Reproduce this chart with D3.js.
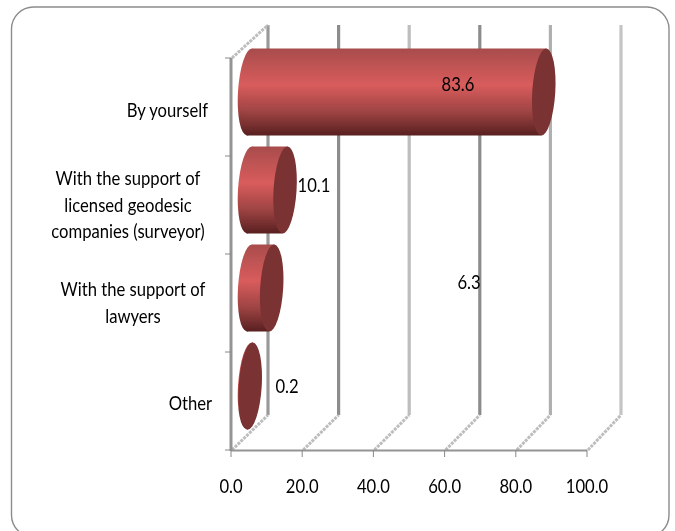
<!DOCTYPE html>
<html>
<head>
<meta charset="utf-8">
<script src="https://cdn.jsdelivr.net/npm/d3@7"></script>
<style>
  html, body { margin: 0; padding: 0; background: #fff; }
  svg { display: block; }
  text { font-family: Lato, "Open Sans", sans-serif; fill: #000; }
</style>
</head>
<body>
<script>
var categories = ["By yourself", "With the support of|licensed geodesic|companies (surveyor)", "With the support of|lawyers", "Other"];
var values = [83.6, 10.1, 6.3, 0.2];
var valueLabels = ["83.6", "10.1", "6.3", "0.2"];
var ticks = [0, 20, 40, 60, 80, 100];

var w = 675;
var h = 531;
var fontSize = 18.5;
var squeeze = 0.9;

var svg = d3.select("body").append("svg")
  .attr("width", w)
  .attr("height", h);

var x = d3.scaleLinear().domain([0, 100]).range([231, 587]);
var xBack = d3.scaleLinear().domain([0, 100]).range([268, 621]);
var xBar = d3.scaleLinear().domain([0, 100]).range([249.5, 601.5]);
var y = d3.scaleBand().domain(d3.range(categories.length)).range([58, 450]);

var defs = svg.append("defs");

// vertical gradient for the cylinder body
var grad = defs.append("linearGradient")
  .attr("id", "body")
  .attr("gradientUnits", "objectBoundingBox")
  .attr("x1", 0).attr("y1", 0).attr("x2", 0).attr("y2", 1);
grad.append("stop").attr("offset", "0%").attr("stop-color", "#a84c4c");
grad.append("stop").attr("offset", "42%").attr("stop-color", "#d95c5c");
grad.append("stop").attr("offset", "72%").attr("stop-color", "#a04444");
grad.append("stop").attr("offset", "100%").attr("stop-color", "#582020");

// the original is a slightly soft upscaled picture
defs.append("filter").attr("id", "soft")
  .append("feGaussianBlur").attr("stdDeviation", 0.4);

var g = svg.append("g").attr("filter", "url(#soft)");

// rounded frame
g.append("rect")
  .attr("x", 11.5).attr("y", 7)
  .attr("width", 657.5).attr("height", 530)
  .attr("rx", 22).attr("ry", 22)
  .attr("fill", "#fff")
  .attr("stroke", "#8c8c8c")
  .attr("stroke-width", 1.4);

// back wall grid lines and floor lines
var gridColors = ["#999999", "#8c8c8c", "#bdbdbd", "#8c8c8c", "#b0b0b0", "#c4c4c4"];
ticks.forEach(function(t, i)
{
  g.append("line")
    .attr("x1", xBack(t)).attr("x2", xBack(t))
    .attr("y1", 25).attr("y2", 415)
    .attr("stroke", gridColors[i])
    .attr("stroke-width", 3.2);
  g.append("line")
    .attr("x1", x(t) + 1).attr("x2", xBack(t))
    .attr("y1", 450).attr("y2", 415)
    .attr("stroke", "#bdbdbd")
    .attr("stroke-width", 3)
    .attr("stroke-dasharray", "3 1");
});

// top diagonal of the side wall
g.append("line")
  .attr("x1", x(0) + 1).attr("x2", xBack(0))
  .attr("y1", 58).attr("y2", 25)
  .attr("stroke", "#bdbdbd")
  .attr("stroke-width", 3)
  .attr("stroke-dasharray", "3 1");

// front axes
g.append("line")
  .attr("x1", x(0)).attr("x2", x(0))
  .attr("y1", 58).attr("y2", 451)
  .attr("stroke", "#949494")
  .attr("stroke-width", 3);
g.append("line")
  .attr("x1", x(0)).attr("x2", x(100))
  .attr("y1", 450.5).attr("y2", 450.5)
  .attr("stroke", "#949494")
  .attr("stroke-width", 2);

// axis ticks
var yTicks = d3.range(categories.length + 1);
g.selectAll(".ytick").data(yTicks).enter().append("line")
  .attr("class", "ytick")
  .attr("x1", 225).attr("x2", 231)
  .attr("y1", function(d) { return 58 + d * y.bandwidth(); })
  .attr("y2", function(d) { return 58 + d * y.bandwidth(); })
  .attr("stroke", "#888");
g.selectAll(".xtick").data(ticks).enter().append("line")
  .attr("class", "xtick")
  .attr("x1", function(d) { return x(d); })
  .attr("x2", function(d) { return x(d); })
  .attr("y1", 450).attr("y2", 457)
  .attr("stroke", "#888");

// cylinders: rounded start, straight body, dark end cap, all leaning the same way
var rx = 11.5;
var ry = 43.5;
var lean = 3.5;
var tilt = ry * Math.sin(lean * Math.PI / 180);

values.forEach(function(v, i)
{
  var cy = y(i) + y.bandwidth() / 2 - 15;
  var x0 = xBar(0);
  var x1 = xBar(v);
  var top = cy - ry;
  var bottom = cy + ry;

  g.append("ellipse")
    .attr("cx", x0).attr("cy", cy)
    .attr("rx", rx).attr("ry", ry)
    .attr("transform", "rotate(" + lean + "," + x0 + "," + cy + ")")
    .attr("fill", "url(#body)");

  g.append("path")
    .attr("d", "M" + (x0 + tilt) + "," + top +
      "L" + (x1 + tilt) + "," + top +
      "L" + (x1 - tilt) + "," + bottom +
      "L" + (x0 - tilt) + "," + bottom + "Z")
    .attr("fill", "url(#body)");

  g.append("ellipse")
    .attr("cx", x1).attr("cy", cy)
    .attr("rx", rx).attr("ry", ry)
    .attr("transform", "rotate(" + lean + "," + x1 + "," + cy + ")")
    .attr("fill", "#7a3131");
});

// narrow text, scaled around its own anchor
function label(px, py, anchor, str)
{
  g.append("text")
    .attr("transform", "translate(" + px + "," + py + ") scale(" + squeeze + ",1)")
    .attr("text-anchor", anchor)
    .attr("font-size", fontSize)
    .text(str);
}

// value labels, placed the way the original has them
var labelX = [458, 314, 469, 287];
var labelY = [91, 192, 289, 393];
valueLabels.forEach(function(d, i)
{
  label(labelX[i], labelY[i], "middle", d);
});

// x tick labels
ticks.forEach(function(d)
{
  label(x(d), 493, "middle", d3.format(".1f")(d));
});

// category labels
var catX = [208, 128, 133, 212];
var catY = [117, 185, 296, 410];
categories.forEach(function(c, i)
{
  c.split("|").forEach(function(line, j)
  {
    label(catX[i], catY[i] + j * 26.5, i == 0 || i == 3 ? "end" : "middle", line);
  });
});
</script>
</body>
</html>
